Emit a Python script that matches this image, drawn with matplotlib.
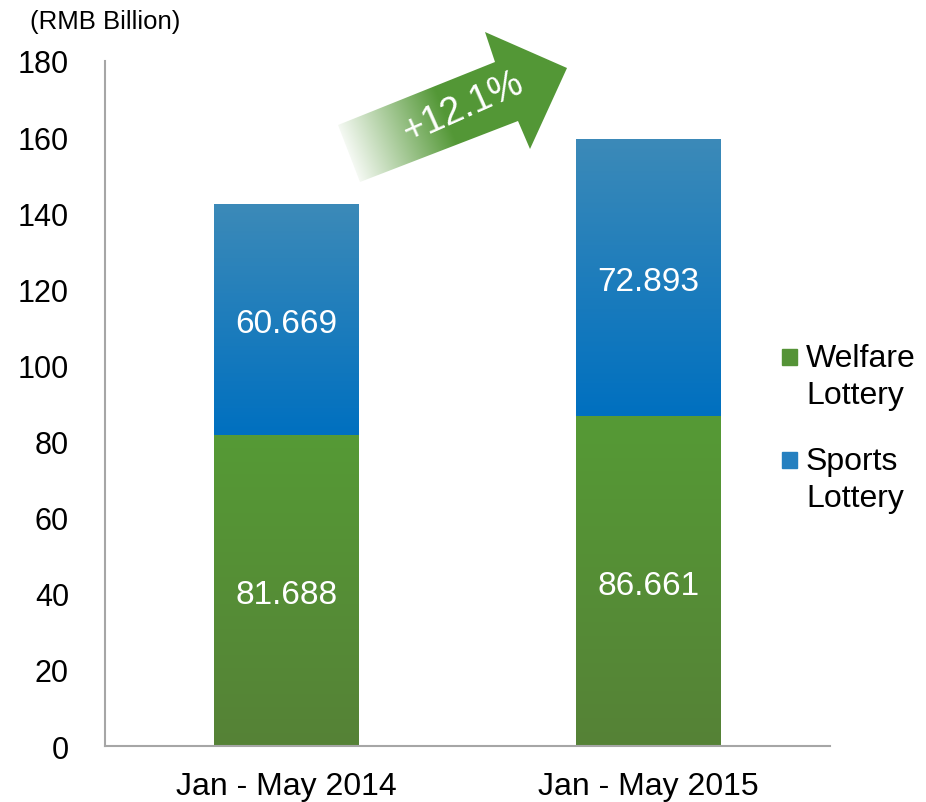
import numpy as np
import matplotlib
matplotlib.use("Agg")
import matplotlib.pyplot as plt
from matplotlib.colors import LinearSegmentedColormap
from matplotlib.patches import Polygon, Rectangle

plt.rcParams["font.family"] = ["Liberation Sans", "DejaVu Sans"]

periods = ["Jan - May 2014", "Jan - May 2015"]
welfare = [81.688, 86.661]
sports = [60.669, 72.893]
growth_label = "+12.1%"
unit_label = "(RMB Billion)"
series_names = ["Welfare\nLottery", "Sports\nLottery"]

green_cmap = LinearSegmentedColormap.from_list("g", ["#568237", "#559a35"])
blue_cmap = LinearSegmentedColormap.from_list("b", ["#0070c0", "#3c8ab8"])

fig = plt.figure(figsize=(9.26, 8.03), dpi=100)
ax = fig.add_axes([0.1134, 0.0697, 0.7829, 0.8531])

x = np.arange(len(periods))
w = 0.4
b1 = ax.bar(x, welfare, w, color="none", edgecolor="none")
b2 = ax.bar(x, sports, w, bottom=welfare, color="none", edgecolor="none")

# vertical gradient fill clipped to each bar
grad = np.linspace(0, 1, 256).reshape(-1, 1)
for bars, cmap in ((b1, green_cmap), (b2, blue_cmap)):
    for r in bars:
        x0, y0 = r.get_x(), r.get_y()
        x1, y1 = x0 + r.get_width(), y0 + r.get_height()
        im = ax.imshow(grad, cmap=cmap, aspect="auto", origin="lower",
                       extent=(x0, x1, y0, y1), zorder=2)
        im.set_clip_path(r)

ax.bar_label(b1, labels=[f"{v:.3f}" for v in welfare], label_type="center",
             color="white", fontsize=24, padding=-3)
ax.bar_label(b2, labels=[f"{v:.3f}" for v in sports], label_type="center",
             color="white", fontsize=24, padding=-3)

ax.set_xlim(-0.5, 1.5)
ax.set_ylim(0, 180)
ax.set_yticks(np.arange(0, 181, 20))
ax.set_xticks(x)
ax.set_xticklabels(periods, fontsize=23)
ax.tick_params(axis="both", length=0)
ax.tick_params(axis="y", labelsize=22, pad=26)
ax.tick_params(axis="x", pad=18)
for s in ("top", "right"):
    ax.spines[s].set_visible(False)
for s in ("left", "bottom"):
    ax.spines[s].set_color("#a6a6a6")
    ax.spines[s].set_linewidth(1.5)

fig.text(30 / 926, 1 - 22 / 803, unit_label, fontsize=18.5, va="center", ha="left")

# legend drawn by hand so the square sits on the first line
leg_colors = ["#559337", "#2580c0"]
for i, (name, c) in enumerate(zip(series_names, leg_colors)):
    top = 350 + i * 103
    fig.patches.append(Rectangle((782 / 926, 1 - (top + 16) / 803), 15 / 926, 16 / 803,
                                 transform=fig.transFigure, color=c))
    fig.text(806 / 926, 1 - (top - 6) / 803, name, fontsize=23, va="top", ha="left",
             linespacing=1.3)

# growth arrow overlay in pixel space
ov = fig.add_axes([0, 0, 1, 1], zorder=5)
ov.set_xlim(0, 926)
ov.set_ylim(803, 0)
ov.axis("off")
pts = np.array([(338, 126), (495, 63), (485, 33), (567, 69),
                (530, 150), (518, 122), (360, 183)])
arrow = Polygon(pts, closed=True, facecolor="none", edgecolor="none")
ov.add_patch(arrow)
ang = np.deg2rad(21.5)
d = np.array([np.cos(ang), -np.sin(ang)])
xs, ys = np.meshgrid(np.arange(330, 575), np.arange(25, 190))
proj = (xs - 340) * d[0] + (ys - 150) * d[1]
t = np.clip(proj / 110.0, 0, 1)
g = np.array([0x54, 0x98, 0x37]) / 255.0
img = np.ones(xs.shape + (3,)) * (1 - t[..., None]) + g * t[..., None]
im = ov.imshow(img, extent=(330, 575, 190, 25), origin="upper", aspect="auto")
im.set_clip_path(arrow)
ov.text(463, 108, growth_label, rotation=24, color="white", fontsize=27,
        ha="center", va="center", rotation_mode="anchor")

fig.savefig("out.png", dpi=100)
